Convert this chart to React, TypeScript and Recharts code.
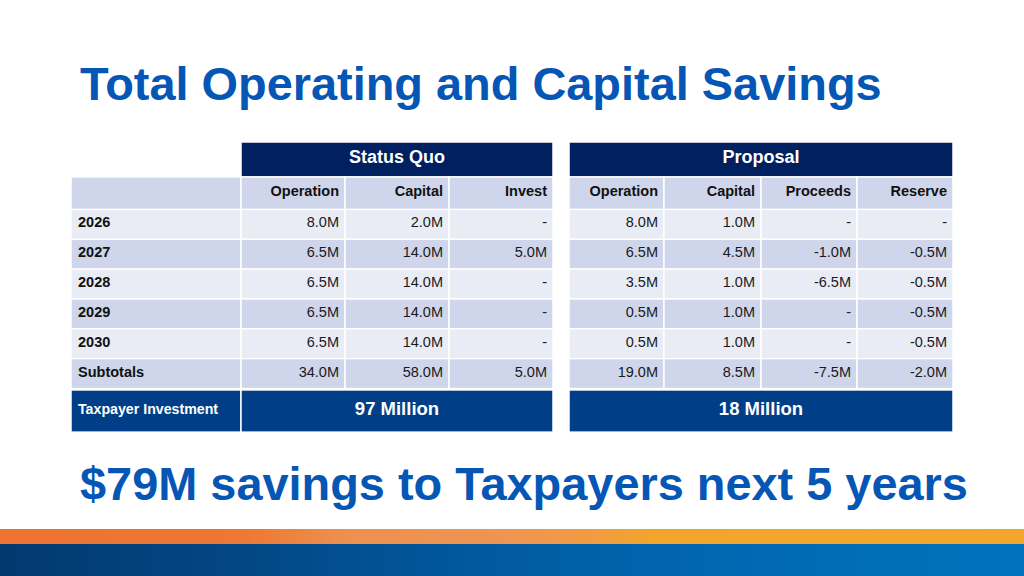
import React from "react";
import { BarChart, Bar, XAxis, YAxis } from "recharts";

// ---------- data ----------
const years = ["2026", "2027", "2028", "2029", "2030"];
const sqColumns = ["Operation", "Capital", "Invest"];
const prColumns = ["Operation", "Capital", "Proceeds", "Reserve"];
const sqOperation = [8.0, 6.5, 6.5, 6.5, 6.5];
const sqCapital = [2.0, 14.0, 14.0, 14.0, 14.0];
const sqInvest: (number | null)[] = [null, 5.0, null, null, null];
const prOperation = [8.0, 6.5, 3.5, 0.5, 0.5];
const prCapital = [1.0, 4.5, 1.0, 1.0, 1.0];
const prProceeds: (number | null)[] = [null, -1.0, -6.5, null, null];
const prReserve: (number | null)[] = [null, -0.5, -0.5, -0.5, -0.5];
const sqSubtotals = [34.0, 58.0, 5.0];
const prSubtotals = [19.0, 8.5, -7.5, -2.0];
const groupTitles = ["Status Quo", "Proposal"];
const totalLabel = "Taxpayer Investment";
const subtotalLabel = "Subtotals";
const taxpayerTotals = [97, 18];

// ---------- styles ----------
const COL_W = [170, 104, 104, 104, 16, 95, 97, 96, 96];
const NAVY = "#002060";
const TAX_BLUE = "#003F88";
const LAV_DARK = "#CFD5EA";
const LAV_LIGHT = "#E9EBF5";
const TITLE_BLUE = "#0556B5";
const FONT = "'Liberation Sans', Arial, Helvetica, sans-serif";
// per-row vertical adjustments [dy, dh] (styling of header/total rows)
const ROW_ADJ: [number, number][] = [
  [-7.8, 5.1],
  [-2.7, 2.7],
  [0, 0],
  [0, 0],
  [0, 0],
  [0, 0],
  [0, 0],
  [0, 0],
  [1.5, 12.2],
];

const fmt = (v: number | null) => (v == null ? "-" : `${v.toFixed(1)}M`);

const rowKeys = ["group", "head", ...years, subtotalLabel, totalLabel];
const sqSpan = COL_W[1] + COL_W[2] + COL_W[3];
const prSpan = COL_W[5] + COL_W[6] + COL_W[7] + COL_W[8];

const tableData = rowKeys.map((row, i) => {
  const o: any = { row };
  const spanning = i === 0 || i === rowKeys.length - 1;
  COL_W.forEach((w, c) => {
    o[`c${c}`] = w;
  });
  if (spanning) {
    o.c1 = sqSpan;
    o.c2 = 0;
    o.c3 = 0;
    o.c5 = prSpan;
    o.c6 = 0;
    o.c7 = 0;
    o.c8 = 0;
  }
  return o;
});

type CellInfo = {
  text: string;
  fill: string;
  align: "left" | "right" | "center";
  bold: boolean;
  size: number;
  color: string;
};

function cellInfo(r: number, c: number): CellInfo | null {
  if (c === 4) return null;
  const last = rowKeys.length - 1;
  if (r === 0) {
    if (c === 1) return { text: groupTitles[0], fill: NAVY, align: "center", bold: true, size: 18, color: "#fff" };
    if (c === 5) return { text: groupTitles[1], fill: NAVY, align: "center", bold: true, size: 18, color: "#fff" };
    return null;
  }
  if (r === last) {
    if (c === 0) return { text: totalLabel, fill: TAX_BLUE, align: "left", bold: true, size: 14.2, color: "#fff" };
    if (c === 1) return { text: `${taxpayerTotals[0]} Million`, fill: TAX_BLUE, align: "center", bold: true, size: 18.5, color: "#fff" };
    if (c === 5) return { text: `${taxpayerTotals[1]} Million`, fill: TAX_BLUE, align: "center", bold: true, size: 18.5, color: "#fff" };
    return null;
  }
  if (r === 1) {
    const text = c === 0 ? "" : c <= 3 ? sqColumns[c - 1] : prColumns[c - 5];
    return { text, fill: LAV_DARK, align: "right", bold: true, size: 14.5, color: "#111" };
  }
  const k = r - 2;
  const isSub = k === years.length;
  const fill = isSub ? LAV_DARK : k % 2 === 0 ? LAV_LIGHT : LAV_DARK;
  if (c === 0) {
    return { text: isSub ? subtotalLabel : years[k], fill, align: "left", bold: true, size: 14.5, color: "#111" };
  }
  let text = "";
  if (isSub) {
    text = c <= 3 ? fmt(sqSubtotals[c - 1]) : fmt(prSubtotals[c - 5]);
  } else {
    const cols = [sqOperation, sqCapital, sqInvest, null, prOperation, prCapital, prProceeds, prReserve];
    const arr = cols[c - 1] as (number | null)[];
    text = fmt(arr[k]);
  }
  return { text, fill, align: "right", bold: false, size: 14.5, color: "#1a1a1a" };
}

const makeShape = (c: number) => (props: any) => {
  const { x, y, width, height, index } = props;
  if (!width || width <= 0) return <g />;
  const info = cellInfo(index, c);
  if (!info) return <g />;
  const [dy, dh] = ROW_ADJ[index] || [0, 0];
  const yy = y + dy;
  const hh = height + dh;
  const tx = info.align === "left" ? x + 7 : info.align === "right" ? x + width - 6 : x + width / 2;
  const anchor = info.align === "left" ? "start" : info.align === "right" ? "end" : "middle";
  return (
    <g>
      <rect x={x} y={yy} width={width} height={hh} fill={info.fill} stroke="#ffffff" strokeWidth={1.5} />
      {info.text ? (
        <text
          x={tx}
          y={yy + hh / 2}
          dy="0.2em"
          textAnchor={anchor}
          fontFamily={FONT}
          fontSize={info.size}
          fontWeight={info.bold ? 700 : 400}
          fill={info.color}
        >
          {info.text}
        </text>
      ) : null}
    </g>
  );
};

export default function App() {
  return (
    <div
      style={{
        position: "absolute",
        left: 0,
        top: 0,
        width: 1024,
        height: 576,
        background: "#ffffff",
        overflow: "hidden",
        fontFamily: FONT,
      }}
    >
      <div
        style={{
          position: "absolute",
          left: 80,
          top: 61,
          fontSize: 46.9,
          lineHeight: 1,
          fontWeight: 700,
          color: TITLE_BLUE,
          whiteSpace: "nowrap",
        }}
      >
        Total Operating and Capital Savings
      </div>

      <div style={{ position: "absolute", left: 0, top: 0 }}>
        <BarChart
          width={1024}
          height={576}
          data={tableData}
          layout="vertical"
          barCategoryGap={0}
          barGap={0}
          margin={{ top: 149.8, right: 71, bottom: 157.73, left: 71 }}
        >
          <XAxis type="number" hide domain={[0, 882]} allowDataOverflow />
          <YAxis type="category" dataKey="row" hide />
          {COL_W.map((_, c) => (
            <Bar
              key={c}
              dataKey={`c${c}`}
              stackId="t"
              isAnimationActive={false}
              shape={makeShape(c)}
            />
          ))}
        </BarChart>
      </div>

      <div
        style={{
          position: "absolute",
          left: 80,
          top: 461,
          fontSize: 46.9,
          lineHeight: 1,
          fontWeight: 700,
          color: TITLE_BLUE,
          whiteSpace: "nowrap",
        }}
      >
        $79M savings to Taxpayers next 5 years
      </div>

      <div
        style={{
          position: "absolute",
          left: 0,
          top: 529,
          width: 1024,
          height: 15,
          background:
            "linear-gradient(90deg, #EC7330 0%, #ED7833 24%, #EE9050 34%, #EE9552 50%, #F09C40 58%, #F3A52A 64%, #F3A62A 100%)",
        }}
      />
      <div
        style={{
          position: "absolute",
          left: 0,
          top: 544,
          width: 1024,
          height: 32,
          background: "linear-gradient(90deg, #02396F 0%, #034886 25%, #015CA2 50%, #006AB4 75%, #0073BE 100%)",
        }}
      />
    </div>
  );
}
